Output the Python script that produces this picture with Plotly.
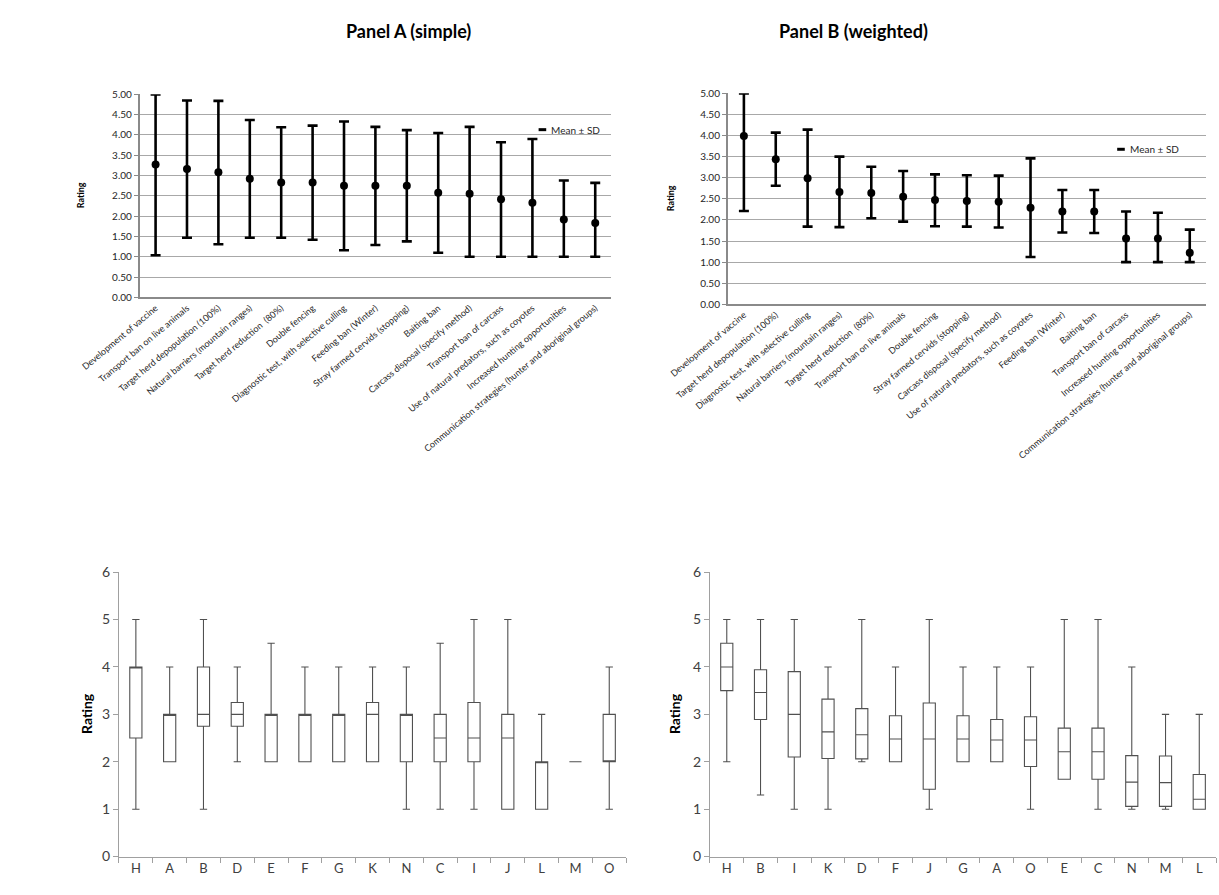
import plotly.graph_objects as go

W, H = 1219, 895

# ---------------- Panel A (simple) ----------------
a_labels = [
    "Development of vaccine",
    "Transport ban on live animals",
    "Target herd depopulation (100%)",
    "Natural barriers (mountain ranges)",
    "Target herd reduction  (80%)",
    "Double fencing",
    "Diagnostic test, with selective culling",
    "Feeding ban (Winter)",
    "Stray farmed cervids (stopping)",
    "Baiting ban",
    "Carcass disposal (specify method)",
    "Transport ban of carcass",
    "Use of natural predators, such as coyotes",
    "Increased hunting opportunities",
    "Communication strategies (hunter and aboriginal groups)",
]
a_mean = [3.27, 3.16, 3.08, 2.92, 2.83, 2.83, 2.75, 2.75, 2.75, 2.58, 2.55, 2.42, 2.33, 1.92, 1.83]
a_upper = [5.00, 4.85, 4.84, 4.37, 4.19, 4.23, 4.33, 4.20, 4.12, 4.05, 4.20, 3.82, 3.90, 2.88, 2.82]
a_lower = [1.04, 1.47, 1.31, 1.47, 1.47, 1.42, 1.16, 1.29, 1.38, 1.10, 1.00, 1.00, 1.00, 1.00, 1.00]

# ---------------- Panel B (weighted) ----------------
b_labels = [
    "Development of vaccine",
    "Target herd depopulation (100%)",
    "Diagnostic test, with selective culling",
    "Natural barriers (mountain ranges)",
    "Target herd reduction  (80%)",
    "Transport ban on live animals",
    "Double fencing",
    "Stray farmed cervids (stopping)",
    "Carcass disposal (specify method)",
    "Use of natural predators, such as coyotes",
    "Feeding ban (Winter)",
    "Baiting ban",
    "Transport ban of carcass",
    "Increased hunting opportunities",
    "Communication strategies (hunter and aboriginal groups)",
]
b_mean = [3.99, 3.44, 2.99, 2.66, 2.64, 2.55, 2.47, 2.45, 2.43, 2.29, 2.20, 2.20, 1.56, 1.56, 1.22]
b_upper = [5.00, 4.07, 4.14, 3.50, 3.26, 3.16, 3.08, 3.06, 3.05, 3.46, 2.71, 2.71, 2.20, 2.17, 1.77]
b_lower = [2.21, 2.81, 1.84, 1.83, 2.04, 1.96, 1.85, 1.84, 1.82, 1.12, 1.70, 1.69, 1.00, 1.00, 1.00]

# ---------------- Box plot (simple) ----------------
c_cats = ["H", "A", "B", "D", "E", "F", "G", "K", "N", "C", "I", "J", "L", "M", "O"]
c_low = [1, 2, 1, 2, 2, 2, 2, 2, 1, 1, 1, 1, 1, 2, 1]
c_q1 = [2.5, 2, 2.75, 2.75, 2, 2, 2, 2, 2, 2, 2, 1, 1, 2, 2]
c_med = [4, 3, 3, 3, 3, 3, 3, 3, 3, 2.5, 2.5, 2.5, 2, 2, 2]
c_q3 = [4, 3, 4, 3.25, 3, 3, 3, 3.25, 3, 3, 3.25, 3, 2, 2, 3]
c_high = [5, 4, 5, 4, 4.5, 4, 4, 4, 4, 4.5, 5, 5, 3, 2, 4]

# ---------------- Box plot (weighted) ----------------
d_cats = ["H", "B", "I", "K", "D", "F", "J", "G", "A", "O", "E", "C", "N", "M", "L"]
d_low = [2, 1.3, 1, 1, 2, 2, 1, 2, 2, 1, 1.63, 1, 1, 1, 1]
d_q1 = [3.5, 2.89, 2.1, 2.07, 2.06, 2, 1.42, 2, 2, 1.9, 1.63, 1.63, 1.06, 1.06, 1]
d_med = [4, 3.46, 3, 2.63, 2.57, 2.48, 2.48, 2.48, 2.46, 2.46, 2.21, 2.21, 1.57, 1.56, 1.21]
d_q3 = [4.5, 3.94, 3.9, 3.32, 3.12, 2.97, 3.24, 2.97, 2.89, 2.95, 2.71, 2.71, 2.13, 2.12, 1.73]
d_high = [5, 5, 5, 4, 5, 4, 5, 4, 4, 4, 5, 5, 4, 3, 3]

FONT = "Lato"


def px_x(x):
    return x / W


def px_y(y):
    return 1 - y / H


fig = go.Figure()


def err_trace(labels, mean, upper, lower, xa, ya):
    return go.Scatter(
        x=labels, y=mean, mode="markers",
        marker=dict(color="black", size=8),
        error_y=dict(type="data", symmetric=False,
                     array=[u - m for u, m in zip(upper, mean)],
                     arrayminus=[m - l for m, l in zip(mean, lower)],
                     color="black", thickness=2.6, width=5),
        xaxis=xa, yaxis=ya, showlegend=False, cliponaxis=False,
        hoverinfo="x+y",
    )


def box_trace(cats, low, q1, med, q3, high, xa, ya):
    return go.Box(
        x=cats, lowerfence=low, q1=q1, median=med, q3=q3, upperfence=high,
        fillcolor="white", line=dict(color="#505050", width=1.1),
        whiskerwidth=0.6, width=0.36, boxpoints=False,
        xaxis=xa, yaxis=ya, showlegend=False,
    )


fig.add_trace(err_trace(a_labels, a_mean, a_upper, a_lower, "x", "y"))
fig.add_trace(err_trace(b_labels, b_mean, b_upper, b_lower, "x2", "y2"))
fig.add_trace(box_trace(c_cats, c_low, c_q1, c_med, c_q3, c_high, "x3", "y3"))
fig.add_trace(box_trace(d_cats, d_low, d_q1, d_med, d_q3, d_high, "x4", "y4"))

top_x = dict(type="category", showline=True, linecolor="#8a8a8a", linewidth=2,
             ticks="", showgrid=False, tickangle=-40, range=[-0.5, 14.5],
             tickfont=dict(family=FONT, size=9, color="#262626"))
top_y = dict(range=[0, 5], dtick=0.5, tick0=0, tickformat=".2f", showgrid=True,
             gridcolor="#a8a8a8", gridwidth=1, showline=True, linecolor="#8a8a8a",
             linewidth=2, ticks="outside", ticklen=4, tickcolor="#8a8a8a",
             zeroline=False, tickfont=dict(family=FONT, size=10, color="#262626"))
bot_x = dict(type="category", showline=True, linecolor="#a0a0a0", linewidth=1,
             ticks="outside", tickson="boundaries", ticklen=5, tickcolor="#a0a0a0",
             showgrid=False, range=[-0.5, 14.5],
             tickfont=dict(family=FONT, size=13, color="#404040"))
bot_y = dict(range=[0, 6], dtick=1, tick0=0, showgrid=False, showline=True,
             linecolor="#a0a0a0", linewidth=1, ticks="outside", ticklen=5,
             tickcolor="#a0a0a0", zeroline=False,
             tickfont=dict(family=FONT, size=14, color="#404040"))

fig.update_layout(
    width=W, height=H, margin=dict(l=0, r=0, t=0, b=0),
    paper_bgcolor="white", plot_bgcolor="white",
    font=dict(family=FONT),
    xaxis=dict(top_x, domain=[px_x(85), px_x(580)], anchor="y"),
    yaxis=dict(top_y, domain=[px_y(294), px_y(87)], anchor="x"),
    xaxis2=dict(top_x, domain=[px_x(703), px_x(1205)], anchor="y2"),
    yaxis2=dict(top_y, domain=[px_y(301), px_y(86)], anchor="x2"),
    xaxis3=dict(bot_x, domain=[px_x(63), px_x(596)], anchor="y3"),
    yaxis3=dict(bot_y, domain=[px_y(864), px_y(574)], anchor="x3"),
    xaxis4=dict(bot_x, domain=[px_x(684), px_x(1216)], anchor="y4"),
    yaxis4=dict(bot_y, domain=[px_y(864), px_y(574)], anchor="x4"),
)

ann = []
shapes = []
# Panel titles
ann.append(dict(text="<b>Panel A (simple)</b>", x=px_x(300), y=px_y(22), xref="paper", yref="paper",
                showarrow=False, yanchor="middle", font=dict(family=FONT, size=18, color="black")))
ann.append(dict(text="<b>Panel B (weighted)</b>", x=px_x(915), y=px_y(22), xref="paper", yref="paper",
                showarrow=False, yanchor="middle", font=dict(family=FONT, size=18, color="black")))
# Rating titles
for (x, y, s) in [(23, 190, 9), (642, 193, 9), (29, 718, 14), (647, 718, 14)]:
    ann.append(dict(text="<b>Rating</b>", x=px_x(x), y=px_y(y), xref="paper", yref="paper",
                    xanchor="center", yanchor="middle",
                    showarrow=False, textangle=-90, font=dict(family=FONT, size=s, color="black")))
# Legends: short dash + text
for (x0, y0) in [(504, 123), (1112, 143)]:
    shapes.append(dict(type="line", xref="paper", yref="paper",
                       x0=px_x(x0), x1=px_x(x0 + 8), y0=px_y(y0), y1=px_y(y0),
                       line=dict(color="black", width=3)))
    ann.append(dict(text="Mean ± SD", x=px_x(x0 + 11), y=px_y(y0), xref="paper", yref="paper",
                    xanchor="left", yanchor="middle", showarrow=False,
                    font=dict(family=FONT, size=10, color="#262626")))

fig.update_layout(annotations=ann, shapes=shapes)
fig.write_html(
    "out.html",
    config={"displayModeBar": False},
    post_script="document.body.style.margin='0px';document.body.style.overflow='hidden';"
                "document.documentElement.style.overflow='hidden';",
)
